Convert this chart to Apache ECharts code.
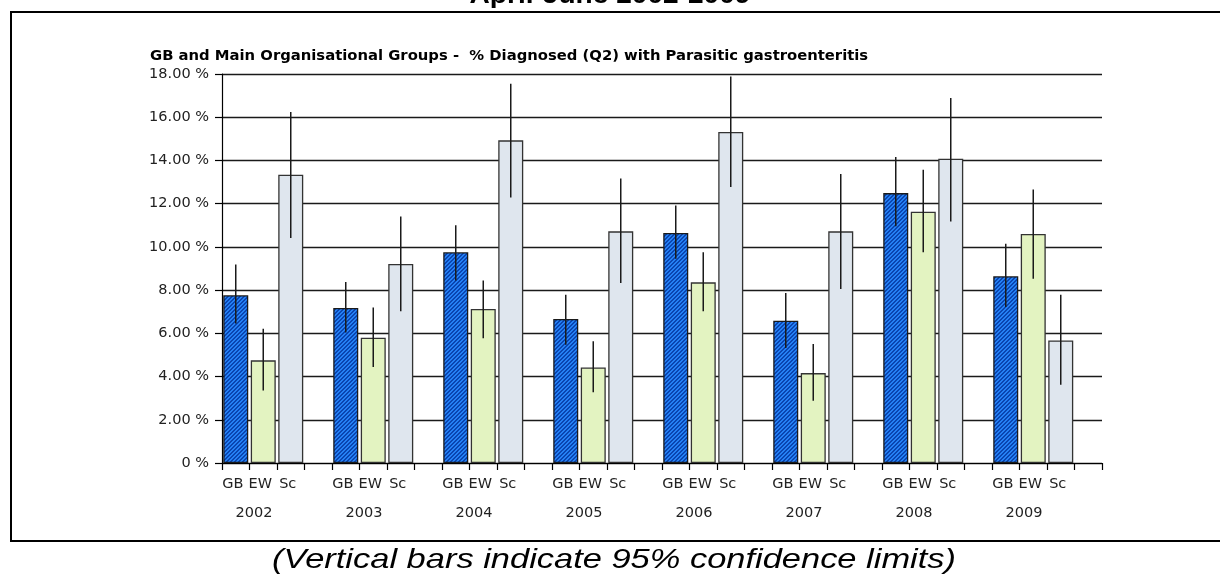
<!DOCTYPE html>
<html>
<head>
<meta charset="utf-8">
<script src="https://cdn.jsdelivr.net/npm/echarts@6/dist/echarts.min.js"></script>
<style>
  html, body { margin: 0; padding: 0; background: #ffffff; }
  #chart { width: 1220px; height: 575px; }
</style>
</head>
<body>
<div id="chart"></div>
<script>
// Percentage of cases diagnosed with parasitic gastroenteritis, April-June, by group and year
const years = ['2002', '2003', '2004', '2005', '2006', '2007', '2008', '2009'];
const groups = ['GB', 'EW', 'Sc'];
const yTicks = [0, 2, 4, 6, 8, 10, 12, 14, 16, 18];

const gb = [7.76, 7.17, 9.75, 6.66, 10.64, 6.58, 12.49, 8.64];
const ew = [4.75, 5.80, 7.13, 4.42, 8.36, 4.16, 11.63, 10.60];
const sc = [13.34, 9.21, 14.93, 10.72, 15.32, 10.72, 14.08, 5.67];

// 95% confidence limits
const gbLow  = [6.45, 6.04, 8.45, 5.47, 9.45, 5.32, 10.95, 7.22];
const gbHigh = [9.18, 8.37, 11.00, 7.79, 11.91, 7.87, 14.16, 10.15];
const ewLow  = [3.35, 4.44, 5.77, 3.27, 7.02, 2.88, 9.75, 8.53];
const ewHigh = [6.21, 7.20, 8.45, 5.63, 9.75, 5.51, 13.57, 12.65];
const scLow  = [10.41, 7.02, 12.28, 8.33, 12.77, 8.05, 11.18, 3.62];
const scHigh = [16.24, 11.41, 17.55, 13.17, 17.89, 13.37, 16.89, 7.79];

// Each year takes four slots: GB, EW, Sc and an empty spacer
const SLOTS = 4;
const slotNames = [];
years.forEach(y => {
  groups.forEach(g => slotNames.push(y + ' ' + g));
  slotNames.push(y + ' ');
});

function spread(values, pos) {
  const out = new Array(years.length * SLOTS).fill('-');
  values.forEach((v, i) => { out[i * SLOTS + pos] = v; });
  return out;
}

const errData = [];
[[gbLow, gbHigh], [ewLow, ewHigh], [scLow, scHigh]].forEach((pair, pos) => {
  pair[0].forEach((lo, i) => errData.push([i * SLOTS + pos, lo, pair[1][i]]));
});

// Diagonal hatch fill for the GB bars
const hatch = document.createElement('canvas');
hatch.width = 4; hatch.height = 4;
(function () {
  const c = hatch.getContext('2d');
  c.fillStyle = '#2580f4';
  c.fillRect(0, 0, 4, 4);
  c.fillStyle = '#0a45b0';
  for (let i = 0; i < 4; i++) {
    c.fillRect(i, 3 - i, 1, 1);
    c.fillRect(i, (4 - i) % 4, 1, 1);
  }
})();

const axisFont = 'DejaVu Sans, Verdana, sans-serif';
const headFont = 'Liberation Sans, Arial, sans-serif';

const chart = echarts.init(document.getElementById('chart'), null, { renderer: 'canvas' });

chart.setOption({
  animation: false,
  backgroundColor: '#ffffff',
  title: [
    {
      text: 'GB and Main Organisational Groups -  % Diagnosed (Q2) with Parasitic gastroenteritis',
      left: 145,
      top: 44,
      textStyle: { fontFamily: axisFont, fontWeight: 'bold', fontSize: 14.8, color: '#000' }
    }
  ],
  graphic: [
    {
      type: 'rect',
      shape: { x: 11, y: 12, width: 1240, height: 529 },
      style: { fill: null, stroke: '#000', lineWidth: 2 },
      silent: true
    },
    {
      type: 'text',
      x: 610, y: 9,
      scaleX: 1.08,
      style: {
        text: 'April-June 2002-2009',
        font: 'bold 26px ' + headFont,
        fill: '#000',
        align: 'center',
        verticalAlign: 'bottom'
      },
      silent: true
    },
    {
      type: 'text',
      x: 614, y: 560,
      scaleX: 1.23,
      style: {
        text: '(Vertical bars indicate 95% confidence limits)',
        font: 'italic 28px ' + headFont,
        fill: '#000',
        align: 'center',
        verticalAlign: 'middle'
      },
      silent: true
    }
  ],
  grid: { left: 222, right: 118, top: 74, bottom: 112, containLabel: false },
  xAxis: [
    {
      type: 'category',
      data: slotNames,
      boundaryGap: true,
      axisLine: { show: true, lineStyle: { color: '#000', width: 1.2 } },
      axisTick: { show: true, interval: 0, length: 7, lineStyle: { color: '#000', width: 1.2 } },
      axisLabel: {
        interval: 0,
        margin: 14,
        fontFamily: axisFont,
        fontSize: 14.5,
        color: '#222',
        padding: [0, 6, 0, 0],
        formatter: (v, idx) => (idx % SLOTS < groups.length ? groups[idx % SLOTS] : '')
      },
      splitLine: { show: false }
    },
    {
      type: 'category',
      data: years,
      position: 'bottom',
      offset: 0,
      boundaryGap: true,
      axisLine: { show: false },
      axisTick: { show: false },
      axisLabel: {
        interval: 0,
        margin: 43,
        fontFamily: axisFont,
        fontSize: 14.5,
        color: '#222',
        padding: [0, 46, 0, 0]
      }
    }
  ],
  yAxis: {
    type: 'value',
    min: yTicks[0],
    max: yTicks[yTicks.length - 1],
    interval: 2,
    axisLine: { show: true, lineStyle: { color: '#000', width: 1.2 } },
    axisTick: { show: true, length: 7, lineStyle: { color: '#000', width: 1.2 } },
    axisLabel: {
      margin: 13,
      fontFamily: axisFont,
      fontSize: 14.5,
      color: '#222',
      formatter: v => (v === 0 ? '0 %' : v.toFixed(2) + ' %')
    },
    splitLine: { show: true, lineStyle: { color: '#1a1a1a', width: 1.3 } }
  },
  series: [
    {
      name: 'GB', type: 'bar', stack: 'slot', barWidth: 25,
      data: spread(gb, 0),
      itemStyle: { color: { image: hatch, repeat: 'repeat' }, borderColor: '#1a1a1a', borderWidth: 1.3 }
    },
    {
      name: 'EW', type: 'bar', stack: 'slot', barWidth: 24,
      data: spread(ew, 1),
      itemStyle: { color: '#e3f3c1', borderColor: '#333', borderWidth: 1.3 }
    },
    {
      name: 'Sc', type: 'bar', stack: 'slot', barWidth: 24,
      data: spread(sc, 2),
      itemStyle: { color: '#dfe6ee', borderColor: '#333', borderWidth: 1.3 }
    },
    {
      name: 'CI', type: 'custom',
      data: errData,
      encode: { x: 0, y: [1, 2] },
      z: 10,
      renderItem: (params, api) => {
        const lo = api.coord([api.value(0), api.value(1)]);
        const hi = api.coord([api.value(0), api.value(2)]);
        return {
          type: 'line',
          shape: { x1: lo[0], y1: lo[1], x2: hi[0], y2: hi[1] },
          style: { stroke: '#1a1a1a', lineWidth: 1.5 }
        };
      }
    }
  ]
});
</script>
</body>
</html>
